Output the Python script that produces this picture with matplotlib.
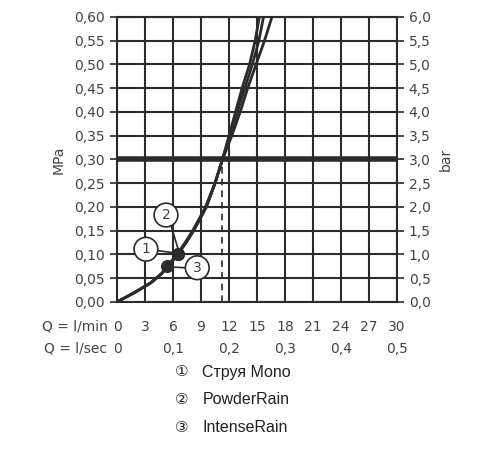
import matplotlib.pyplot as plt

# pressure levels (MPa) and flow (l/min)
pressure = [0, 0.02, 0.04, 0.06, 0.075, 0.09, 0.10, 0.125, 0.15, 0.175, 0.20, 0.25, 0.30,
            0.35, 0.40, 0.45, 0.50, 0.55, 0.60]
flow_mono = [0, 1.9, 3.6, 4.8, 5.4, 6.1, 6.5, 7.4, 8.2, 8.9, 9.5, 10.5, 11.3,
             12.0, 12.7, 13.4, 14.2, 14.8, 15.25]
flow_powder = [0, 1.9, 3.6, 4.8, 5.4, 6.1, 6.5, 7.4, 8.2, 8.9, 9.6, 10.5, 11.3,
               12.1, 12.9, 13.7, 14.5, 15.2, 15.7]
flow_intense = [0, 1.9, 3.6, 4.8, 5.4, 6.0, 6.4, 7.3, 8.1, 8.8, 9.5, 10.5, 11.3,
                12.3, 13.2, 14.0, 14.9, 15.8, 16.6]

# operating points
pt_q = [6.55, 6.55, 5.4]
pt_p = [0.102, 0.102, 0.075]
pt_labels = ['1', '2', '3']
label_q = [3.1, 5.25, 8.6]
label_p = [0.111, 0.183, 0.072]

lmin_ticks = [0, 3, 6, 9, 12, 15, 18, 21, 24, 27, 30]
lsec_ticks = [0, 0.1, 0.2, 0.3, 0.4, 0.5]
mpa_ticks = [i * 0.05 for i in range(13)]
legend_names = ['Струя Mono', 'PowderRain', 'IntenseRain']
legend_marks = ['①', '②', '③']

dark = '#2b2b2b'
txt = '#444444'

fig = plt.figure(figsize=(5, 4.5), dpi=100)
ax = fig.add_axes([0.234, 0.329, 0.56, 0.6333])

ax.set_xlim(0, 30)
ax.set_ylim(0, 0.6)
ax.set_xticks(lmin_ticks)
ax.set_yticks(mpa_ticks)
ax.grid(True, color=dark, lw=1.5)
ax.set_axisbelow(True)
for s in ax.spines.values():
    s.set_color(dark)
    s.set_linewidth(1.5)
ax.axhline(0.30, color=dark, lw=4, zorder=3)
ax.plot([11.3, 11.3], [0, 0.30], color=dark, lw=1.2, ls=(0, (4, 3)), zorder=3)

for fl in [flow_mono, flow_powder, flow_intense]:
    ax.plot(fl, pressure, color=dark, lw=2.0, zorder=4, solid_capstyle='round')

ax.scatter(pt_q, pt_p, s=70, color=dark, zorder=5)

# leaders from circle labels to points
ax.plot([4.4, 6.3], [0.108, 0.103], color=dark, lw=1.2, zorder=4)
ax.plot([5.8, 6.6], [0.160, 0.108], color=dark, lw=1.2, zorder=4)
ax.plot([7.3, 5.5], [0.072, 0.074], color=dark, lw=1.2, zorder=4)
for q, p, lab in zip(label_q, label_p, pt_labels):
    ax.text(q, p, lab, ha='center', va='center', fontsize=10, color=txt, zorder=6,
            bbox=dict(boxstyle='circle,pad=0.35', fc='white', ec=dark, lw=1.2))

ax.tick_params(axis='x', length=0, pad=13, labelsize=10, labelcolor=txt)
ax.set_xticklabels([str(v) for v in lmin_ticks])
ax.tick_params(axis='y', length=5, width=1.2, color=dark, direction='out', labelsize=10, labelcolor=txt)
ax.set_yticklabels([f'{v:.2f}'.replace('.', ',') for v in mpa_ticks])
ax.set_ylabel('MPa', fontsize=10, color=txt, labelpad=6)

ax2 = ax.twinx()
ax2.set_ylim(0, 6)
ax2.set_yticks([v * 10 for v in mpa_ticks])
ax2.set_yticklabels([f'{v * 10:.1f}'.replace('.', ',') for v in mpa_ticks])
ax2.tick_params(axis='y', length=5, width=1.2, color=dark, direction='out', labelsize=10, labelcolor=txt)
for s in ax2.spines.values():
    s.set_visible(False)
ax2.set_ylabel('bar', fontsize=10, color=txt, labelpad=6)

# second row: l/sec
for v in lsec_ticks:
    ax.text(v * 60, -0.1, '0' if v == 0 else f'{v:.1f}'.replace('.', ','),
            ha='center', va='center', fontsize=10, color=txt, transform=ax.transData, clip_on=False)
fig.text(0.215, 1 - 326.5 / 450, 'Q = l/min', ha='right', va='center', fontsize=10, color=txt)
fig.text(0.215, 1 - 349 / 450, 'Q = l/sec', ha='right', va='center', fontsize=10, color=txt)

for i, (m, n) in enumerate(zip(legend_marks, legend_names)):
    y = 1 - (372 + 28 * i) / 450
    fig.text(0.364, y, m, ha='center', va='center', fontsize=11,
             family=['DejaVu Sans', 'Noto Sans CJK SC'], color='#222222')
    fig.text(0.405, y, n, ha='left', va='center', fontsize=11.5,
             family='Liberation Sans', color='#222222')

fig.savefig('out.png', dpi=100)
